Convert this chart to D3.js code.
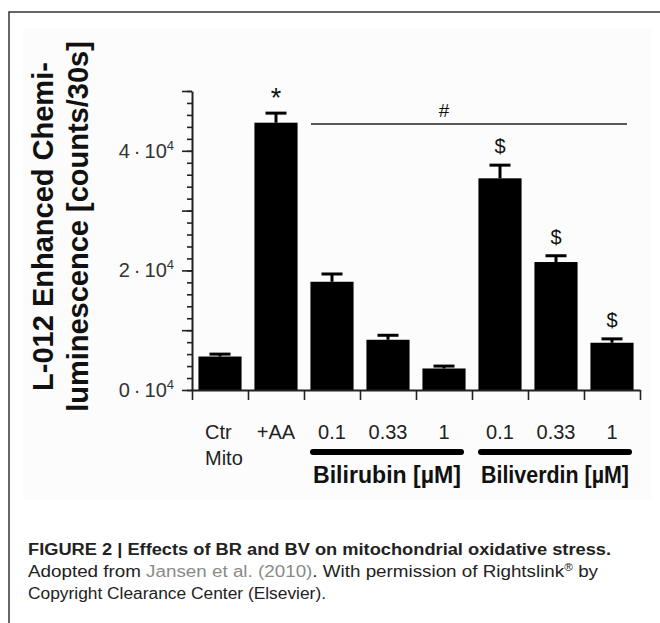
<!DOCTYPE html>
<html>
<head>
<meta charset="utf-8">
<script src="https://cdn.jsdelivr.net/npm/d3@7"></script>
<style>
  body { margin: 0; background: #fff; }
  svg { display: block; font-family: "Liberation Sans", Arial, sans-serif; }
</style>
</head>
<body>
<svg id="chart"></svg>
<script>
const width = 660;
const height = 623;

// data
const categories = ['Ctr', '+AA', 'BR 0.1', 'BR 0.33', 'BR 1', 'BV 0.1', 'BV 0.33', 'BV 1'];
const tickLabels = [['Ctr', 'Mito'], ['+AA'], ['0.1'], ['0.33'], ['1'], ['0.1'], ['0.33'], ['1']];
const means = [5600, 44700, 18100, 8400, 3600, 35400, 21400, 7900];
const errors = [400, 1600, 1300, 750, 400, 2200, 1050, 650];
const marks = ['', '*', '', '', '', '$', '$', '$'];
const majorTicks = [0, 10000, 20000, 30000, 40000, 50000];
const labelledTicks = [0, 20000, 40000];
const groupNames = ['Bilirubin [µM]', 'Biliverdin [µM]'];
const groupFirst = ['BR 0.1', 'BV 0.1'];
const groupLast = ['BR 1', 'BV 1'];

const svg = d3.select('#chart')
    .attr('width', width)
    .attr('height', height);

// figure frame and faint panel
svg.append('rect').attr('x', 23).attr('y', 28).attr('width', 628).attr('height', 472)
    .attr('fill', '#fcfcfc');
svg.append('path').attr('d', 'M9,623V12H660')
    .attr('fill', 'none').attr('stroke', '#333').attr('stroke-width', 1.5);

const x = d3.scaleBand().domain(categories).range([192, 640]).padding(0);
const xEdge = d3.scaleLinear().domain([0, categories.length]).range([192, 640]);
const y = d3.scaleLinear().domain([0, 50000]).range([390, 91]);
const barW = x.bandwidth() * 0.77;

// bars
svg.append('g').selectAll('rect').data(categories).enter().append('rect')
    .attr('x', d => x(d) + (x.bandwidth() - barW) / 2)
    .attr('y', (d, i) => y(means[i]))
    .attr('width', barW)
    .attr('height', (d, i) => y(0) - y(means[i]))
    .attr('fill', '#000');

// error bars, upward only
const err = svg.append('g').attr('stroke', '#000');
err.selectAll('.stem').data(categories).enter().append('line')
    .attr('x1', d => x(d) + x.bandwidth() / 2)
    .attr('x2', d => x(d) + x.bandwidth() / 2)
    .attr('y1', (d, i) => y(means[i]))
    .attr('y2', (d, i) => y(means[i] + errors[i]))
    .attr('stroke-width', 3);
err.selectAll('.cap').data(categories).enter().append('line')
    .attr('x1', d => x(d) + x.bandwidth() / 2 - 10.5)
    .attr('x2', d => x(d) + x.bandwidth() / 2 + 10.5)
    .attr('y1', (d, i) => y(means[i] + errors[i]))
    .attr('y2', (d, i) => y(means[i] + errors[i]))
    .attr('stroke-width', 3);

// significance marks
svg.append('g').selectAll('text').data(categories).enter().append('text')
    .attr('x', d => x(d) + x.bandwidth() / 2)
    .attr('y', (d, i) => y(means[i] + errors[i]) - (marks[i] === '*' ? 6 : 12))
    .attr('text-anchor', 'middle')
    .attr('font-size', (d, i) => marks[i] === '*' ? 27 : 20)
    .attr('fill', '#111')
    .text((d, i) => marks[i]);

// "#" bar over all treated groups
svg.append('line')
    .attr('x1', x('BR 0.1') + 7).attr('x2', x('BV 1') + x.bandwidth() - 13)
    .attr('y1', 124).attr('y2', 124)
    .attr('stroke', '#222').attr('stroke-width', 1.5);
svg.append('text')
    .attr('x', x('BR 1') + x.bandwidth() / 2).attr('y', 117)
    .attr('text-anchor', 'middle').attr('font-size', 19).attr('fill', '#111')
    .text('#');

// y axis: minor and major ticks
const yMinor = svg.append('g').attr('transform', 'translate(192,0)')
    .call(d3.axisLeft(y).tickValues(d3.range(0, 50001, 2000)).tickSize(5).tickSizeOuter(0).tickFormat(''));
const yMajor = svg.append('g').attr('transform', 'translate(192,0)')
    .call(d3.axisLeft(y).tickValues(majorTicks).tickSize(10).tickSizeOuter(0).tickPadding(8).tickFormat(''));
yMinor.select('.domain').remove();
[yMinor, yMajor].forEach(g => g.selectAll('line').attr('stroke', '#222').attr('stroke-width', 1.6));
yMajor.select('.domain').attr('stroke', '#222').attr('stroke-width', 2);
yMajor.selectAll('.tick text')
    .attr('font-size', 20).attr('fill', '#333')
    .each(function (d) {
        if (!labelledTicks.includes(d)) return;
        const t = d3.select(this);
        t.append('tspan').text((d / 10000) + '\u2009·\u200910');
        t.append('tspan').attr('font-size', 13).attr('dy', -8).text('4');
    });

// x axis with ticks at band edges
const xAxis = svg.append('g').attr('transform', 'translate(0,390)')
    .call(d3.axisBottom(xEdge).tickValues(d3.range(categories.length + 1)).tickSize(10).tickSizeOuter(0).tickFormat(''));
xAxis.select('.domain').attr('stroke', '#222').attr('stroke-width', 2);
xAxis.selectAll('line').attr('stroke', '#222').attr('stroke-width', 1.6);

// category labels
const catLab = svg.append('g').attr('font-size', 20).attr('fill', '#222');
categories.forEach((c, i) => {
    const cx = x(c) + x.bandwidth() / 2;
    if (tickLabels[i].length > 1) {
        tickLabels[i].forEach((t, j) => {
            catLab.append('text').attr('x', x(c) + 13).attr('y', 439 + j * 26).text(t);
        });
    } else {
        catLab.append('text').attr('x', cx).attr('y', 439).attr('text-anchor', 'middle').text(tickLabels[i][0]);
    }
});

// group brackets
groupNames.forEach((g, i) => {
    const x0 = x(groupFirst[i]) + 9;
    const x1 = x(groupLast[i]) + x.bandwidth() - 11;
    svg.append('line').attr('x1', x0).attr('x2', x1).attr('y1', 452).attr('y2', 452)
        .attr('stroke', '#000').attr('stroke-width', 6).attr('stroke-linecap', 'round');
    svg.append('text').attr('x', (x0 + x1) / 2).attr('y', 483)
        .attr('text-anchor', 'middle').attr('font-size', 24).attr('font-weight', 'bold')
        .attr('fill', '#111')
        .attr('textLength', 148).attr('lengthAdjust', 'spacingAndGlyphs')
        .text(g);
});

// y axis title
const yTitle = ['L-012 Enhanced Chemi-', 'luminescence [counts/30s]'];
yTitle.forEach((t, i) => {
    svg.append('text')
        .attr('transform', `translate(${53 + i * 35},226.5) rotate(-90)`)
        .attr('text-anchor', 'middle').attr('font-size', 29).attr('font-weight', 'bold')
        .attr('fill', '#111')
        .text(t);
});

// caption
const cap = svg.append('g').attr('font-size', 16).attr('fill', '#222');
cap.append('text').attr('x', 28).attr('y', 555).attr('font-weight', 'bold')
    .attr('textLength', 583).attr('lengthAdjust', 'spacingAndGlyphs')
    .text('FIGURE 2 | Effects of BR and BV on mitochondrial oxidative stress.');
const l2 = cap.append('text').attr('x', 28).attr('y', 577)
    .attr('textLength', 570).attr('lengthAdjust', 'spacingAndGlyphs');
l2.append('tspan').text('Adopted from ');
l2.append('tspan').attr('fill', '#8a8a8a').text('Jansen et al. (2010)');
l2.append('tspan').text('. With permission of Rightslink');
l2.append('tspan').attr('font-size', 10).attr('dy', -6).text('®');
l2.append('tspan').attr('dy', 6).text(' by');
cap.append('text').attr('x', 28).attr('y', 599)
    .attr('textLength', 298).attr('lengthAdjust', 'spacingAndGlyphs')
    .text('Copyright Clearance Center (Elsevier).');
</script>
</body>
</html>
